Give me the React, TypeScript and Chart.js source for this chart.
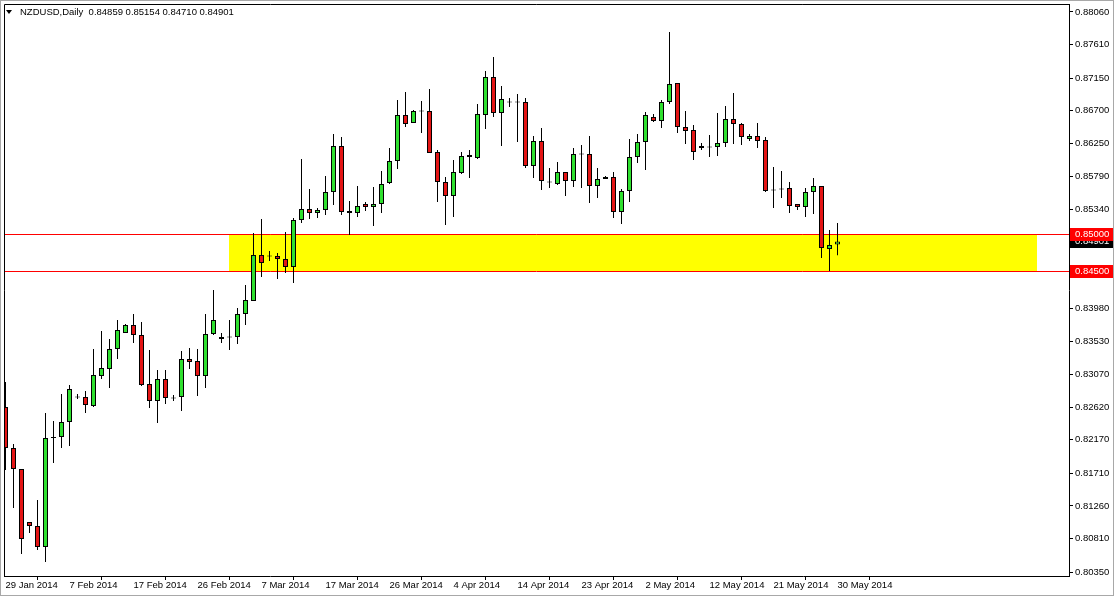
import React, { useEffect, useRef } from "react";
import { Chart, registerables } from "chart.js";
Chart.register(...registerables);

// ---- data ----
const symbolTitle = "NZDUSD,Daily";
const dateLabels = [
  "29 Jan 2014", "7 Feb 2014", "17 Feb 2014", "26 Feb 2014", "7 Mar 2014",
  "17 Mar 2014", "26 Mar 2014", "4 Apr 2014", "14 Apr 2014", "23 Apr 2014",
  "2 May 2014", "12 May 2014", "21 May 2014", "30 May 2014",
];
const barsPerLabel = 8;

const opens = [
  0.82622, 0.82057, 0.81768, 0.81038, 0.80983, 0.80694, 0.82195, 0.82209, 0.82415, 0.82753,
  0.82760, 0.82635, 0.83048, 0.83145, 0.83420, 0.83641, 0.83750, 0.83613, 0.82938, 0.82704,
  0.83007, 0.82739, 0.82760, 0.83282, 0.83255, 0.83048, 0.83627, 0.83558, 0.83579, 0.83586,
  0.83902, 0.84081, 0.84714, 0.84693, 0.84700, 0.84659, 0.84549, 0.85196, 0.85348, 0.85293,
  0.85334, 0.85581, 0.86215, 0.85320, 0.85293, 0.85417, 0.85376, 0.85417, 0.85706, 0.86008,
  0.86642, 0.86532, 0.86690, 0.86697, 0.86132, 0.85719, 0.85527, 0.85843, 0.86091, 0.86050,
  0.86642, 0.87165, 0.86670, 0.86814, 0.86828, 0.86821, 0.85940, 0.86284, 0.85712, 0.85692,
  0.85857, 0.85733, 0.86098, 0.86105, 0.85664, 0.85761, 0.85789, 0.85306, 0.85596, 0.86064,
  0.86270, 0.86615, 0.86559, 0.86821, 0.87083, 0.86477, 0.86435, 0.86188, 0.86195, 0.86202,
  0.86257, 0.86587, 0.86518, 0.86311, 0.86353, 0.86298, 0.85602, 0.85630, 0.85637, 0.85417,
  0.85376, 0.85581, 0.85664, 0.84797, 0.84859,
];
const highs = [
  0.82966, 0.82112, 0.81768, 0.81038, 0.81341, 0.82539, 0.82429, 0.82801, 0.82924, 0.82801,
  0.82842, 0.83420, 0.83668, 0.83558, 0.83819, 0.83764, 0.83902, 0.83792, 0.83406, 0.83131,
  0.83131, 0.82787, 0.83393, 0.83434, 0.83420, 0.83902, 0.84233, 0.83641, 0.83819, 0.83985,
  0.84301, 0.85017, 0.85210, 0.84769, 0.84742, 0.85031, 0.85224, 0.86036, 0.85623, 0.85362,
  0.85802, 0.86380, 0.86339, 0.85458, 0.85664, 0.85444, 0.85651, 0.85871, 0.86188, 0.86848,
  0.86958, 0.86711, 0.86834, 0.87000, 0.86160, 0.85789, 0.86022, 0.86132, 0.86160, 0.86793,
  0.87247, 0.87441, 0.87041, 0.86876, 0.86931, 0.86876, 0.86353, 0.86463, 0.85913, 0.85995,
  0.85857, 0.86188, 0.86229, 0.86353, 0.85913, 0.85802, 0.85857, 0.85623, 0.86311, 0.86380,
  0.86683, 0.86656, 0.86848, 0.87785, 0.87083, 0.86697, 0.86504, 0.86257, 0.86366, 0.86670,
  0.86766, 0.86945, 0.86532, 0.86380, 0.86532, 0.86339, 0.85926, 0.85871, 0.85719, 0.85417,
  0.85637, 0.85775, 0.85664, 0.85059, 0.85154,
];
const lows = [
  0.81754, 0.81231, 0.80598, 0.80887, 0.80653, 0.80487, 0.81851, 0.82057, 0.82084, 0.82732,
  0.82539, 0.82622, 0.83007, 0.82883, 0.83282, 0.83641, 0.83503, 0.82911, 0.82608, 0.82401,
  0.82663, 0.82704, 0.82567, 0.83145, 0.82773, 0.82883, 0.83613, 0.83503, 0.83406, 0.83489,
  0.83750, 0.84081, 0.84412, 0.84632, 0.84384, 0.84467, 0.84329, 0.85155, 0.85210, 0.85224,
  0.85265, 0.85403, 0.85265, 0.84990, 0.85238, 0.85320, 0.85113, 0.85293, 0.85692, 0.85898,
  0.86477, 0.86532, 0.86394, 0.86119, 0.85444, 0.85127, 0.85238, 0.85830, 0.85775, 0.86036,
  0.86449, 0.86615, 0.86215, 0.86752, 0.86270, 0.85913, 0.85775, 0.85609, 0.85637, 0.85678,
  0.85527, 0.85651, 0.85637, 0.85431, 0.85499, 0.85761, 0.85224, 0.85141, 0.85444, 0.85981,
  0.85885, 0.86545, 0.86463, 0.86793, 0.86394, 0.86243, 0.86022, 0.86160, 0.86064, 0.86077,
  0.86202, 0.86243, 0.86229, 0.86284, 0.86188, 0.85581, 0.85362, 0.85499, 0.85293, 0.85334,
  0.85238, 0.85279, 0.84673, 0.84494, 0.84710,
];
const closes = [
  0.82057, 0.81768, 0.80804, 0.80983, 0.80694, 0.82195, 0.82209, 0.82415, 0.82869, 0.82767,
  0.82649, 0.83062, 0.83159, 0.83420, 0.83682, 0.83750, 0.83613, 0.82924, 0.82704, 0.83007,
  0.82746, 0.82753, 0.83282, 0.83241, 0.83048, 0.83627, 0.83819, 0.83586, 0.83593, 0.83902,
  0.84095, 0.84714, 0.84604, 0.84707, 0.84659, 0.84549, 0.85196, 0.85348, 0.85293, 0.85334,
  0.85581, 0.86215, 0.85306, 0.85293, 0.85389, 0.85376, 0.85417, 0.85692, 0.86008, 0.86642,
  0.86518, 0.86697, 0.86704, 0.86119, 0.85719, 0.85527, 0.85857, 0.86077, 0.86064, 0.86656,
  0.87165, 0.86670, 0.86862, 0.86828, 0.86814, 0.85940, 0.86284, 0.85733, 0.85726, 0.85857,
  0.85733, 0.86105, 0.86112, 0.85664, 0.85761, 0.85789, 0.85306, 0.85596, 0.86064, 0.86270,
  0.86642, 0.86559, 0.86821, 0.87069, 0.86477, 0.86422, 0.86132, 0.86215, 0.86209, 0.86257,
  0.86587, 0.86518, 0.86339, 0.86353, 0.86284, 0.85596, 0.85616, 0.85616, 0.85389, 0.85376,
  0.85581, 0.85664, 0.84811, 0.84852, 0.84901,
];

const priceTicks = [
  0.8806, 0.8761, 0.8715, 0.867, 0.8625, 0.8579, 0.8534, 0.8488, 0.8443,
  0.8398, 0.8353, 0.8307, 0.8262, 0.8217, 0.8171, 0.8126, 0.8081, 0.8035,
];

const zoneHigh = 0.85;
const zoneLow = 0.845;
const zoneStartBar = 27.9;
const zoneEndBar = 128.9;

// ---- view config ----
const W = 1114;
const H = 596;
const yMin = 0.80295;
const yMax = 0.8817;
const xMin = -0.1875;
const xMax = xMin + 1065 / 8;
const GREEN = "#2fe02f";
const RED = "#e41515";
const FONT = "'Liberation Sans', Arial, sans-serif";
const FSIZE = 9.5;

export default function App() {
  const ref = useRef<HTMLCanvasElement>(null);

  useEffect(() => {
    const canvas = ref.current;
    if (!canvas) return;
    const idx = closes.map((_, i) => i);
    const bodyData = idx.map((i) => ({
      x: i,
      y: [Math.min(opens[i], closes[i]), Math.max(opens[i], closes[i])],
    }));
    const wickData = idx.map((i) => ({ x: i, y: [lows[i], highs[i]] }));
    const bodyColors = idx.map((i) => (closes[i] >= opens[i] ? GREEN : RED));
    const last = closes.length - 1;

    const decor = {
      id: "decor",
      beforeDraw(chart: any) {
        const ctx = chart.ctx;
        ctx.save();
        ctx.fillStyle = "#ffffff";
        ctx.fillRect(0, 0, W, H);
        ctx.restore();
      },
      beforeDatasetsDraw(chart: any) {
        const ctx = chart.ctx;
        const xs = chart.scales.x;
        const ys = chart.scales.y;
        const a = chart.chartArea;
        ctx.save();
        const x0 = Math.round(xs.getPixelForValue(zoneStartBar));
        const x1 = Math.round(xs.getPixelForValue(zoneEndBar));
        const yTop = Math.round(ys.getPixelForValue(zoneHigh));
        const yBot = Math.round(ys.getPixelForValue(zoneLow));
        ctx.fillStyle = "#ffff00";
        ctx.fillRect(x0, yTop, x1 - x0, yBot - yTop);
        ctx.strokeStyle = "#ff0000";
        ctx.lineWidth = 1;
        [yTop, yBot].forEach((y) => {
          ctx.beginPath();
          ctx.moveTo(a.left, y + 0.5);
          ctx.lineTo(a.right, y + 0.5);
          ctx.stroke();
        });
        ctx.restore();
      },
      afterDraw(chart: any) {
        const ctx = chart.ctx;
        const ys = chart.scales.y;
        const a = chart.chartArea;
        ctx.save();
        // plot frame (top and left)
        ctx.strokeStyle = "#000";
        ctx.lineWidth = 1;
        ctx.beginPath();
        ctx.moveTo(a.left + 0.5, a.bottom);
        ctx.lineTo(a.left + 0.5, a.top + 0.5);
        ctx.lineTo(a.right, a.top + 0.5);
        ctx.stroke();
        // outer window frame
        ctx.strokeStyle = "#a8a8a8";
        ctx.strokeRect(0.5, 0.5, W - 1, H - 1);

        // header
        ctx.fillStyle = "#000";
        ctx.beginPath();
        ctx.moveTo(6, 10);
        ctx.lineTo(12, 10);
        ctx.lineTo(9, 14);
        ctx.closePath();
        ctx.fill();
        ctx.font = `${FSIZE}px ${FONT}`;
        ctx.textBaseline = "middle";
        ctx.textAlign = "left";
        const header =
          symbolTitle +
          "  " +
          [opens[last], highs[last], lows[last], closes[last]].map((v) => v.toFixed(5)).join(" ");
        ctx.fillText(header, 20, 12.5);

        // price boxes on the axis
        const box = (value: number, bg: string) => {
          const y = Math.round(ys.getPixelForValue(value));
          ctx.fillStyle = bg;
          ctx.fillRect(a.right + 1, y - 6, 43, 13);
          ctx.fillStyle = "#fff";
          ctx.fillText(value.toFixed(5), a.right + 6, y + 0.5);
        };
        box(closes[last], "#000000");
        box(zoneHigh, "#ff0000");
        box(zoneLow, "#ff0000");
        ctx.restore();
      },
    };

    const chart = new Chart(canvas, {
      type: "bar",
      data: {
        datasets: [
          {
            data: bodyData as any,
            backgroundColor: bodyColors,
            borderColor: "#000",
            borderWidth: 1,
            borderSkipped: false,
            barThickness: 5,
            grouped: false,
            inflateAmount: 0,
            order: 1,
          } as any,
          {
            data: wickData as any,
            backgroundColor: "#000",
            borderWidth: 0,
            barThickness: 1,
            grouped: false,
            inflateAmount: 0,
            order: 2,
          } as any,
        ],
      },
      options: {
        animation: false,
        responsive: false,
        devicePixelRatio: 1,
        events: [],
        layout: { padding: { left: 4, top: 4, right: 0, bottom: 0 } },
        plugins: { legend: { display: false }, tooltip: { enabled: false }, title: { display: false } },
        scales: {
          x: {
            type: "linear",
            position: "bottom",
            min: xMin,
            max: xMax,
            offset: false,
            grid: { drawOnChartArea: false, drawTicks: true, tickLength: 4, color: "#000", lineWidth: 1 },
            border: { display: true, color: "#000", width: 1 },
            ticks: {
              autoSkip: false,
              maxRotation: 0,
              minRotation: 0,
              align: "start",
              padding: 0,
              color: "#000",
              font: { family: FONT, size: FSIZE },
              callback: (_v: any, i: number) => dateLabels[i],
            },
            afterBuildTicks: (s: any) => {
              s.ticks = dateLabels.map((_, k) => ({ value: k * barsPerLabel }));
            },
            afterFit: (s: any) => {
              s.height = 20;
              s.paddingLeft = 0;
              s.paddingRight = 0;
              s.paddingTop = 0;
              s.paddingBottom = 0;
            },
          } as any,
          y: {
            type: "linear",
            position: "right",
            min: yMin,
            max: yMax,
            grid: { drawOnChartArea: false, drawTicks: true, tickLength: 4, color: "#000", lineWidth: 1 },
            border: { display: true, color: "#000", width: 1 },
            ticks: {
              autoSkip: false,
              padding: 2,
              color: "#000",
              font: { family: FONT, size: FSIZE },
              callback: (v: any) => Number(v).toFixed(5),
            },
            afterBuildTicks: (s: any) => {
              s.ticks = priceTicks.map((v) => ({ value: v }));
            },
            afterFit: (s: any) => {
              s.width = 45;
              s.paddingLeft = 0;
              s.paddingRight = 0;
              s.paddingTop = 0;
              s.paddingBottom = 0;
            },
          } as any,
        },
      },
      plugins: [decor],
    });

    return () => chart.destroy();
  }, []);

  return (
    <div style={{ position: "fixed", left: 0, top: 0, width: W, height: H, background: "#fff" }}>
      <canvas ref={ref} width={W} height={H} style={{ display: "block", width: W, height: H }} />
    </div>
  );
}
